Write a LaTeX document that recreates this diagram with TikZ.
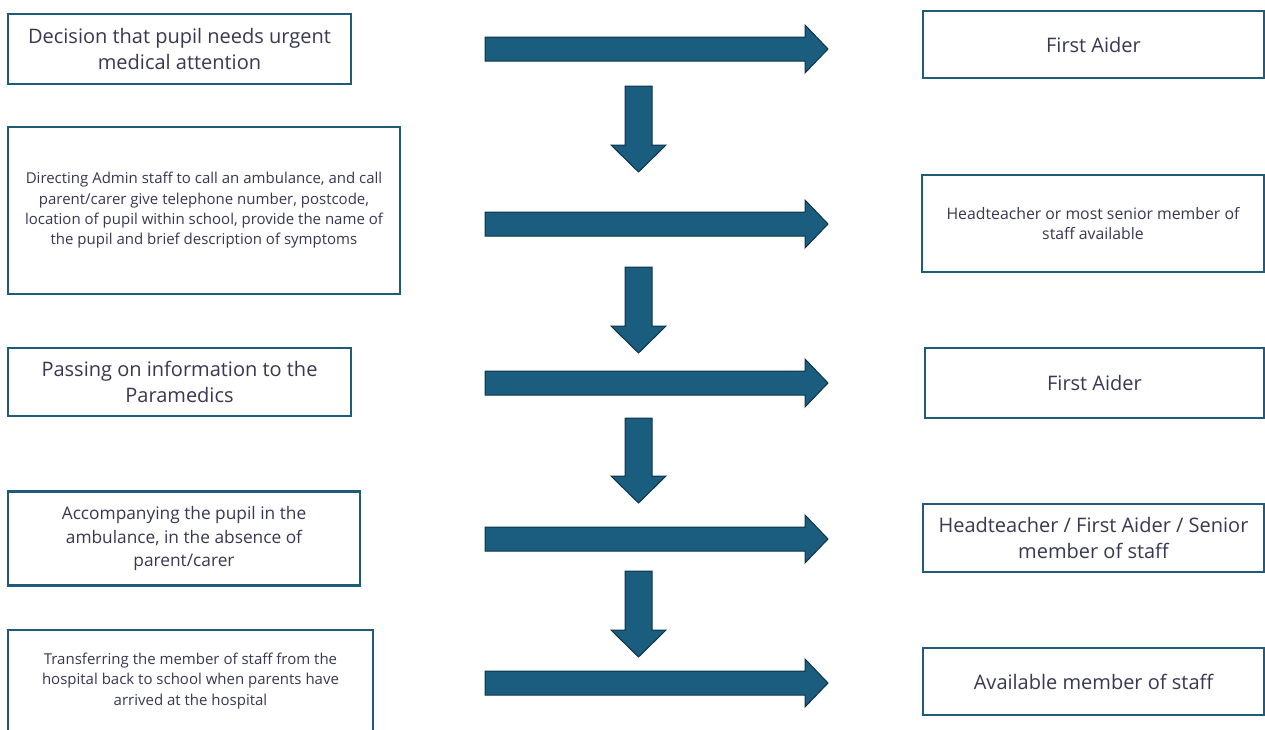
\documentclass[tikz,border=0pt]{standalone}
\usepackage{fontspec}
\setmainfont{Open Sans}
\usetikzlibrary{positioning}

\definecolor{boxline}{RGB}{32,92,122}
\definecolor{arrowfill}{RGB}{26,93,126}
\definecolor{arrowline}{RGB}{14,52,72}
\definecolor{textcol}{RGB}{56,56,82}

\tikzset{
  box/.style={draw=boxline, line width=2.4pt, fill=white, align=center, text=textcol, inner sep=4pt},
  bigtxt/.style={font=\fontsize{20}{26}\selectfont},
  midtxt/.style={font=\fontsize{17.3}{23.5}\selectfont},
  smalltxt/.style={font=\fontsize{15}{20.3}\selectfont},
  blockarrow/.style={fill=arrowfill, draw=arrowline, line width=1pt, line join=miter}
}

\begin{document}
\begin{tikzpicture}[x=1pt,y=-1pt]
    \useasboundingbox (0,0) rectangle (1265,729);

    % left column: what happens
    \node[box,bigtxt,minimum width=343pt,minimum height=70pt] (task1) at (179.5,49)
        {Decision that pupil needs urgent\\medical attention};
    \node[box,smalltxt,minimum width=392pt,minimum height=167pt] (task2) at (204,210.5)
        {Directing Admin staff to call an ambulance, and call\\parent/carer give telephone number, postcode,\\location of pupil within school, provide the name of\\the pupil and brief description of symptoms};
    \node[box,bigtxt,minimum width=343pt,minimum height=68pt] (task3) at (179.5,382)
        {Passing on information to the\\Paramedics};
    \node[box,midtxt,minimum width=352pt,minimum height=94pt] (task4) at (184,538.5)
        {Accompanying the pupil in the\\ambulance, in the absence of\\parent/carer};
    \node[box,smalltxt,minimum width=365pt,minimum height=102pt] (task5) at (190.5,681)
        {Transferring the member of staff from the\\hospital back to school when parents have\\arrived at the hospital};

    % right column: who does it
    \node[box,bigtxt,minimum width=341pt,minimum height=67pt] (who1) at (1093.5,44.5) {First Aider};
    \node[box,font=\fontsize{15.8}{20.3}\selectfont,minimum width=342pt,minimum height=97pt] (who2) at (1093,223.5)
        {Headteacher or most senior member of\\staff available};
    \node[box,bigtxt,minimum width=339pt,minimum height=70pt] (who3) at (1094.5,383) {First Aider};
    \node[box,bigtxt,minimum width=341pt,minimum height=68pt] (who4) at (1093.5,538)
        {Headteacher / First Aider / Senior\\member of staff};
    \node[box,bigtxt,minimum width=341pt,minimum height=67pt] (who5) at (1093.5,681.5) {Available member of staff};

    % arrows across
    \foreach \y in {49,224,383,539,683} {
        \draw[blockarrow] (485,\y-12) -- (805,\y-12) -- (805,\y-24) -- (828,\y)
            -- (805,\y+24) -- (805,\y+12) -- (485,\y+12) -- cycle;
    }

    % arrows down
    \foreach \a/\b in {86/172,267/353,418/503,571/657} {
        \draw[blockarrow] (625,\a) -- (652,\a) -- (652,\b-27) -- (666,\b-27) -- (638.5,\b)
            -- (611,\b-27) -- (625,\b-27) -- cycle;
    }
\end{tikzpicture}
\end{document}
